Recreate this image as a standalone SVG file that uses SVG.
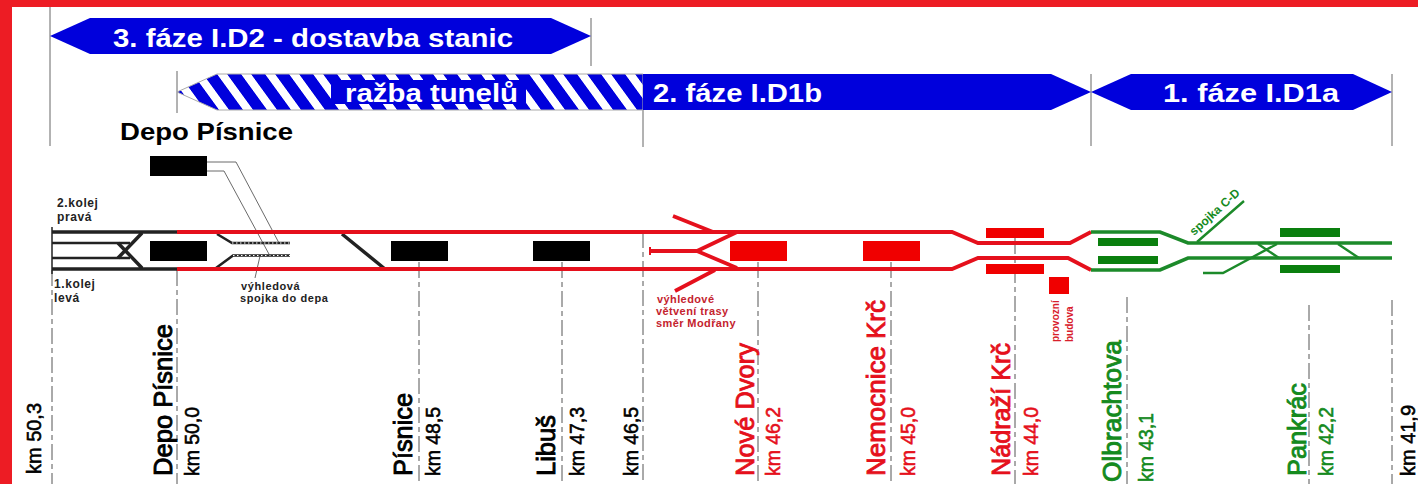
<svg xmlns="http://www.w3.org/2000/svg" width="1418" height="484" viewBox="0 0 1418 484">
<style>
text{font-family:"Liberation Sans",Arial,sans-serif}
.ban{font-size:25px;font-weight:bold;fill:#fff}
.st{font-size:26px;stroke-width:.9px}
.km{font-size:21px;stroke-width:.6px}
.k{fill:#000;stroke:#000}.r{fill:#e5101c;stroke:#e5101c}.g{fill:#158a1e;stroke:#158a1e}
.sm{font-size:12px;font-weight:bold;fill:#222;letter-spacing:.6px}
.sm2{font-size:11px;font-weight:bold;fill:#222;letter-spacing:.6px}
.smr{font-size:11px;font-weight:bold;fill:#c4232e;letter-spacing:.4px}
.smp{font-size:10px;font-weight:bold;fill:#d8202c}
.bl{fill:#0000dc}
.v{stroke:#666;stroke-width:1;fill:none}
.d{stroke:#555;stroke-width:1;fill:none;stroke-dasharray:16 4 5 4}
.tk{stroke:#222;stroke-width:3.500;fill:none}
.tk2{stroke:#222;stroke-width:2.600;fill:none}
.tr{stroke:#e5101c;stroke-width:3.800;fill:none}
.tg{stroke:#1c8a2a;stroke-width:3.600;fill:none}
.tg2{stroke:#1c8a2a;stroke-width:2.400;fill:none}
.thin{stroke:#444;stroke-width:.8;fill:none}
</style>
<defs>
<pattern id="hatch" width="24" height="36" patternUnits="userSpaceOnUse" patternTransform="translate(11 74) skewX(36)">
<rect width="24" height="36" fill="#fff"/><rect width="14" height="36" fill="#0000dc"/>
</pattern>
</defs>
<rect width="1418" height="484" fill="#fff"/>
<g id="frame" fill="#ed1c24"><rect width="1418" height="7"/><rect width="12" height="484"/></g>
<g id="connectors">
<path class="v" d="M50 7V146M177 71V113M591 18V66M643 110V147M1091 74V146M1392 74V146"/>
<path class="d" d="M52 270V484M177 270V484M419 262V484M562 262V484M643 232V484M758 262V484M891 262V484M1015 238V484M1127 297V484M1309 305V484M1392 300V484"/>
<path class="tk" d="M52 232H177M52 269H177M142 233L118 258M118 243L142 268M342 234L385 269"/>
<path class="tk2" d="M52 243H130M52 258H130"/>
<path d="M52 227V274" stroke="#222" stroke-width="1.500"/>
<path class="tk2" d="M217 234L232 243H290M216 268L233 255.500H290"/>
<path d="M232 243H290M233 255.500H290" stroke="#fff" stroke-width="1" stroke-dasharray="1.500 2.500" fill="none"/>
<path class="thin" d="M207 162H236L279 243M207 171H224L270 256M260 256L255 278"/>
<path class="tr" d="M177 232H952L978 243H1070L1091 232M177 269H952L978 258H1068L1091 270"/>
<path class="tr" d="M673 216L713 232M650 251H697L737 232M697 251L737 268M675 291L715 270"/>
<path d="M650 247V255" stroke="#e5101c" stroke-width="2"/>
<path class="tg" d="M1091 232H1160L1188 243H1392M1091 270H1160L1188 258H1392"/>
<path class="tg2" d="M1197 242L1244 201M1258 244L1279 258M1277 244L1223 273H1203M1338 244L1359 258"/>
</g>
<g id="phase3">
<polygon class="bl" points="50,36 90,18 551,18 591,36 551,54 90,54"/>
<text class="ban" x="113" y="47" textLength="400" lengthAdjust="spacingAndGlyphs">3. fáze I.D2 - dostavba stanic</text>
</g>
<g id="tunnel">
<polygon fill="url(#hatch)" stroke="#aaa" stroke-width="1" points="177,92 217,74 643,74 643,110 217,110"/>
<rect class="bl" x="331" y="80" width="195" height="24"/>
<text class="ban" x="345" y="102" textLength="173" lengthAdjust="spacingAndGlyphs">ražba tunelů</text>
</g>
<g id="phase2">
<polygon class="bl" points="643,74 1051,74 1091,92 1051,110 643,110"/>
<text class="ban" x="653" y="102" textLength="169" lengthAdjust="spacingAndGlyphs">2. fáze I.D1b</text>
</g>
<g id="phase1">
<polygon class="bl" points="1091,92 1131,74 1353,74 1392,92 1353,110 1131,110"/>
<text class="ban" x="1163" y="102" textLength="176" lengthAdjust="spacingAndGlyphs">1. fáze I.D1a</text>
</g>
<g id="depo-title"><text x="120" y="140" font-size="24" font-weight="bold" fill="#000" textLength="173" lengthAdjust="spacingAndGlyphs">Depo Písnice</text></g>
<g id="depo-yard" fill="#000"><rect x="150" y="156" width="57" height="20"/></g>
<g id="depo-pisnice">
<rect x="150" y="241" width="57" height="20" fill="#000"/>
<text class="st k" transform="translate(172 476) rotate(-90)" textLength="152" lengthAdjust="spacingAndGlyphs">Depo Písnice</text>
<text class="km k" transform="translate(199 476) rotate(-90)" textLength="69" lengthAdjust="spacingAndGlyphs">km 50,0</text>
</g>
<g id="km503"><text class="km k" transform="translate(41 474) rotate(-90)" textLength="71" lengthAdjust="spacingAndGlyphs">km 50,3</text></g>
<g id="pisnice">
<rect x="391" y="241" width="57" height="20" fill="#000"/>
<text class="st k" transform="translate(412 476) rotate(-90)" textLength="83" lengthAdjust="spacingAndGlyphs">Písnice</text>
<text class="km k" transform="translate(440 476) rotate(-90)" textLength="69" lengthAdjust="spacingAndGlyphs">km 48,5</text>
</g>
<g id="libus">
<rect x="533" y="241" width="57" height="20" fill="#000"/>
<text class="st k" transform="translate(555 476) rotate(-90)" textLength="61" lengthAdjust="spacingAndGlyphs">Libuš</text>
<text class="km k" transform="translate(584 476) rotate(-90)" textLength="69" lengthAdjust="spacingAndGlyphs">km 47,3</text>
</g>
<g id="km465"><text class="km k" transform="translate(638 476) rotate(-90)" textLength="69" lengthAdjust="spacingAndGlyphs">km 46,5</text></g>
<g id="nove-dvory">
<rect x="730" y="241" width="57" height="20" fill="#f00000"/>
<text class="st r" transform="translate(754 476) rotate(-90)" textLength="133" lengthAdjust="spacingAndGlyphs">Nové Dvory</text>
<text class="km r" transform="translate(780 476) rotate(-90)" textLength="69" lengthAdjust="spacingAndGlyphs">km 46,2</text>
</g>
<g id="nemocnice-krc">
<rect x="863" y="241" width="57" height="20" fill="#f00000"/>
<text class="st r" transform="translate(885 476) rotate(-90)" textLength="176" lengthAdjust="spacingAndGlyphs">Nemocnice Krč</text>
<text class="km r" transform="translate(915 476) rotate(-90)" textLength="69" lengthAdjust="spacingAndGlyphs">km 45,0</text>
</g>
<g id="nadrazi-krc" fill="#f00000">
<rect x="986" y="228" width="58" height="10"/><rect x="986" y="264" width="58" height="10"/>
<text class="st r" transform="translate(1010 476) rotate(-90)" textLength="133" lengthAdjust="spacingAndGlyphs">Nádraží Krč</text>
<text class="km r" transform="translate(1038 476) rotate(-90)" textLength="69" lengthAdjust="spacingAndGlyphs">km 44,0</text>
</g>
<g id="provozni-budova">
<rect x="1049" y="277" width="20" height="17" fill="#f00000"/>
<text class="smp" transform="translate(1059 342) rotate(-90)">provozní</text>
<text class="smp" transform="translate(1073 342) rotate(-90)">budova</text>
</g>
<g id="olbrachtova" fill="#0a7f0e">
<rect x="1098" y="238" width="60" height="8"/><rect x="1098" y="256" width="60" height="8"/>
<text class="st g" transform="translate(1121 482) rotate(-90)" textLength="142" lengthAdjust="spacingAndGlyphs">Olbrachtova</text>
<text class="km g" transform="translate(1153 482) rotate(-90)" textLength="69" lengthAdjust="spacingAndGlyphs">km 43,1</text>
</g>
<g id="pankrac" fill="#0a7f0e">
<rect x="1280" y="228" width="60" height="9"/><rect x="1280" y="265" width="60" height="8"/>
<text class="st g" transform="translate(1306 476) rotate(-90)" textLength="93" lengthAdjust="spacingAndGlyphs">Pankrác</text>
<text class="km g" transform="translate(1333 476) rotate(-90)" textLength="69" lengthAdjust="spacingAndGlyphs">km 42,2</text>
</g>
<g id="km419"><text class="km k" transform="translate(1415 476) rotate(-90)" textLength="71" lengthAdjust="spacingAndGlyphs">km 41,9</text></g>
<g id="labels">
<text class="sm" x="57" y="207">2.kolej</text><text class="sm" x="57" y="221">pravá</text>
<text class="sm" x="54" y="288">1.kolej</text><text class="sm" x="54" y="302">levá</text>
<text class="sm2" x="241" y="290">výhledová</text><text class="sm2" x="240" y="302">spojka do depa</text>
<text class="smr" x="657" y="303">výhledové</text><text class="smr" x="656" y="315">větvení trasy</text><text class="smr" x="656" y="327">směr Modřany</text>
<text font-size="12" font-weight="bold" fill="#158a1e" transform="translate(1194 236) rotate(-42)">spojka C-D</text>
</g>
</svg>
